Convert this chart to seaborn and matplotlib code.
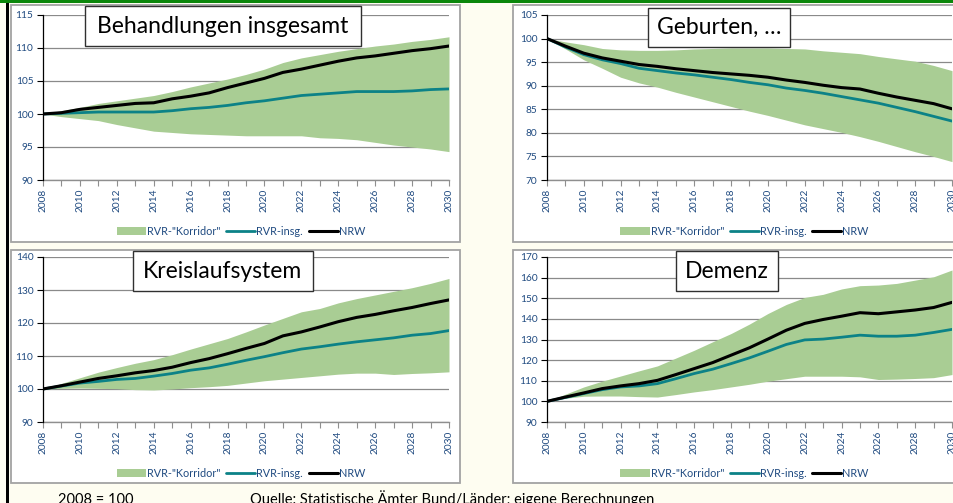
import matplotlib
matplotlib.use("Agg")
import matplotlib.pyplot as plt
import seaborn as sns
import pandas as pd
from matplotlib.patches import Rectangle, Patch
from matplotlib.lines import Line2D
from matplotlib.ticker import MultipleLocator

# data (index 2008 = 100)
years = list(range(2008, 2031))

beh_nrw = [100, 100.2, 100.7, 101.0, 101.3, 101.6, 101.7, 102.3, 102.7, 103.2, 104.0, 104.7,
           105.4, 106.3, 106.8, 107.4, 108.0, 108.5, 108.8, 109.2, 109.6, 109.9, 110.3]
beh_rvr = [100, 100.1, 100.2, 100.3, 100.3, 100.3, 100.3, 100.5, 100.8, 101.0, 101.3, 101.7,
           102.0, 102.4, 102.8, 103.0, 103.2, 103.4, 103.4, 103.4, 103.5, 103.7, 103.8]
beh_hi = [100, 100.5, 101.0, 101.6, 102.0, 102.4, 102.8, 103.4, 104.1, 104.7, 105.3, 106.0,
          106.8, 107.8, 108.5, 109.0, 109.5, 109.9, 110.3, 110.6, 111.0, 111.3, 111.7]
beh_lo = [100, 99.6, 99.3, 99.0, 98.4, 97.9, 97.4, 97.2, 97.0, 96.9, 96.8, 96.7,
          96.7, 96.7, 96.7, 96.4, 96.3, 96.1, 95.7, 95.3, 95.0, 94.7, 94.3]

geb_nrw = [100, 98.4, 96.9, 95.9, 95.2, 94.5, 94.1, 93.6, 93.2, 92.8, 92.5, 92.2,
           91.8, 91.2, 90.7, 90.1, 89.6, 89.3, 88.4, 87.6, 86.9, 86.2, 85.1]
geb_rvr = [100, 98.2, 96.6, 95.5, 94.7, 93.7, 93.2, 92.7, 92.3, 91.8, 91.3, 90.7,
           90.2, 89.5, 89.0, 88.4, 87.7, 87.0, 86.3, 85.4, 84.5, 83.5, 82.5]
geb_hi = [100, 99.3, 98.7, 97.9, 97.6, 97.5, 97.5, 97.6, 97.8, 97.9, 98.0, 98.0,
          98.0, 97.9, 97.8, 97.4, 97.1, 96.8, 96.2, 95.7, 95.2, 94.3, 93.2]
geb_lo = [100, 97.8, 95.5, 93.7, 91.8, 90.6, 89.7, 88.6, 87.6, 86.6, 85.6, 84.6,
          83.7, 82.7, 81.7, 80.9, 80.1, 79.2, 78.2, 77.1, 76.0, 75.0, 73.9]

kre_nrw = [100, 101.0, 102.1, 103.2, 104.0, 104.9, 105.6, 106.6, 108.0, 109.2, 110.7, 112.3,
           113.8, 116.1, 117.3, 118.8, 120.4, 121.7, 122.6, 123.7, 124.7, 125.9, 127.0]
kre_rvr = [100, 100.9, 101.8, 102.3, 102.9, 103.2, 103.9, 104.7, 105.7, 106.4, 107.5, 108.7,
           109.8, 111.0, 112.1, 112.8, 113.6, 114.3, 114.9, 115.5, 116.3, 116.8, 117.7]
kre_hi = [100, 101.7, 103.4, 105.1, 106.5, 107.8, 108.9, 110.4, 112.1, 113.7, 115.3, 117.3,
          119.4, 121.4, 123.4, 124.4, 126.1, 127.4, 128.5, 129.6, 130.7, 132.0, 133.5]
kre_lo = [100, 100.2, 100.3, 100.2, 100.1, 99.8, 99.7, 100.0, 100.4, 100.7, 101.1, 101.8,
          102.5, 103.0, 103.5, 104.0, 104.5, 104.8, 104.8, 104.4, 104.7, 104.9, 105.2]

dem_nrw = [100, 102.1, 104.1, 106.2, 107.5, 108.6, 110.2, 113.0, 115.9, 118.8, 122.4, 126.0,
           130.2, 134.5, 137.8, 139.7, 141.3, 143.0, 142.5, 143.4, 144.3, 145.5, 148.0]
dem_rvr = [100, 101.9, 103.8, 105.7, 107.0, 107.5, 108.6, 111.0, 113.5, 115.6, 118.3, 121.1,
           124.3, 127.6, 129.8, 130.2, 131.1, 132.1, 131.6, 131.6, 132.1, 133.4, 134.9]
dem_hi = [100, 103.5, 107.0, 109.8, 112.3, 114.8, 117.2, 121.0, 124.8, 128.9, 132.9, 137.5,
          142.6, 147.0, 150.4, 151.9, 154.5, 156.1, 156.4, 157.2, 158.8, 160.4, 163.7]
dem_lo = [100, 101.5, 102.5, 102.6, 102.6, 102.3, 102.1, 103.3, 104.6, 105.7, 107.0, 108.3,
          109.8, 111.0, 112.2, 112.2, 112.2, 111.9, 110.6, 110.8, 111.1, 111.5, 113.0]

titles = ["Behandlungen insgesamt", "Geburten, …", "Kreislaufsystem", "Demenz"]
legend_labels = ['RVR-"Korridor"', "RVR-insg.", "NRW"]

FILL = "#a9cd94"
TEAL = "#0c8287"
TXT = "#1f4a80"
GRID = "#8a8a8a"
BG = "#fefdf1"
W, H = 954, 503

sns.set_style("white")
plt.rcParams["font.family"] = ["Lato", "DejaVu Sans"]

fig = plt.figure(figsize=(W / 100, H / 100), dpi=100, facecolor=BG)


def px_box(x0, y0, x1, y1):
    # pixel box (top-left origin) -> figure fraction rect
    return [x0 / W, 1 - y1 / H, (x1 - x0) / W, (y1 - y0) / H]


# per panel: data, y-limits, y-step, axes box, frame box, title box (pixels)
panels = [
    (beh_rvr, beh_nrw, beh_lo, beh_hi, (90, 115), 5, (43, 15, 449, 180), (11, 5, 460, 242), (85, 6, 361, 46)),
    (geb_rvr, geb_nrw, geb_lo, geb_hi, (70, 105), 5, (547, 15, 952, 180), (513, 5, 975, 242), (648, 8, 790, 47)),
    (kre_rvr, kre_nrw, kre_lo, kre_hi, (90, 140), 10, (43, 257, 449, 422), (11, 250, 460, 483), (133, 251, 313, 291)),
    (dem_rvr, dem_nrw, dem_lo, dem_hi, (90, 170), 10, (547, 257, 952, 422), (513, 250, 975, 483), (676, 251, 778, 291)),
]

# background decoration: green bar on top, black bar at the left
fig.patches.append(Rectangle((0, 1 - 3 / H), 1, 3 / H, transform=fig.transFigure,
                             facecolor="#0b870b", edgecolor="none", zorder=-5))
fig.patches.append(Rectangle((6 / W, 0), 3 / W, 1 - 3 / H, transform=fig.transFigure,
                             facecolor="black", edgecolor="none", zorder=-5))

for i, (rvr, nrw, lo, hi, ylim, step, abox, fbox, tbox) in enumerate(panels):
    fr = px_box(*fbox)
    fig.patches.append(Rectangle((fr[0], fr[1]), fr[2], fr[3], transform=fig.transFigure,
                                 facecolor="white", edgecolor="#a3a3a3", lw=1.3, zorder=-4))

    ax = fig.add_axes(px_box(*abox))
    ax.set_facecolor("white")
    df = pd.DataFrame({"Jahr": years, "RVR": rvr, "NRW": nrw, "lo": lo, "hi": hi})

    ax.fill_between(df["Jahr"], df["lo"], df["hi"], color=FILL, lw=0, zorder=1)
    sns.lineplot(data=df, x="Jahr", y="RVR", ax=ax, color=TEAL, lw=2.0, zorder=3)
    sns.lineplot(data=df, x="Jahr", y="NRW", ax=ax, color="black", lw=2.2, zorder=4)

    ax.set_xlim(2008, 2030)
    ax.set_ylim(*ylim)
    ax.set_xlabel("")
    ax.set_ylabel("")
    ax.xaxis.set_major_locator(MultipleLocator(2))
    ax.xaxis.set_minor_locator(MultipleLocator(1))
    ax.yaxis.set_major_locator(MultipleLocator(step))
    ax.grid(axis="y", color=GRID, lw=0.9, zorder=0)
    ax.set_axisbelow(True)
    for s in ("top", "right"):
        ax.spines[s].set_visible(False)
    ax.spines["left"].set_color("black")
    ax.spines["left"].set_linewidth(0.9)
    ax.spines["left"].set_zorder(5)
    ax.spines["bottom"].set_color("#8f8f8f")
    ax.spines["bottom"].set_linewidth(1.0)
    ax.tick_params(axis="both", which="both", direction="out", length=4, width=0.8,
                   labelcolor=TXT, labelsize=7.3)
    ax.tick_params(axis="y", color="black", pad=3, left=True)
    ax.tick_params(axis="x", which="both", color="#8f8f8f", bottom=True)
    ax.tick_params(axis="x", which="major", labelrotation=90, pad=2)

    handles = [Patch(facecolor=FILL, edgecolor="none"),
               Line2D([], [], color=TEAL, lw=2.0),
               Line2D([], [], color="black", lw=2.2)]
    ax.legend(handles, legend_labels, loc="center", bbox_to_anchor=(0.488, -0.31), ncol=3,
              frameon=False, fontsize=7.8, labelcolor=TXT, handlelength=2.7, handleheight=0.8,
              handletextpad=0.1, columnspacing=0.5, borderaxespad=0)

    tb = px_box(*tbox)
    fig.patches.append(Rectangle((tb[0], tb[1]), tb[2], tb[3], transform=fig.transFigure,
                                 facecolor="white", edgecolor="#303030", lw=1.0, zorder=6))
    fig.text(tb[0] + tb[2] / 2, tb[1] + tb[3] / 2, titles[i], ha="center", va="center",
             fontsize=16.5, color="black", zorder=7)

fig.text(58 / W, 1 - 504 / H, "2008 = 100", fontsize=10.5, va="baseline", color="black")
fig.text(250 / W, 1 - 504 / H, "Quelle: Statistische Ämter Bund/Länder; eigene Berechnungen",
         fontsize=10.5, va="baseline", color="black")

fig.savefig("out.png", dpi=100, facecolor=BG)
